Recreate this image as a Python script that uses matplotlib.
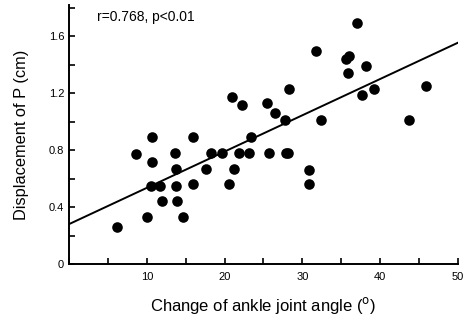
import matplotlib
matplotlib.use("Agg")
import matplotlib.pyplot as plt
import numpy as np
from matplotlib.ticker import MultipleLocator, FixedLocator

plt.rcParams['font.family'] = ['Liberation Sans', 'DejaVu Sans']

angle_change = [6.2, 8.6, 10.0, 10.5, 10.7, 10.7, 11.7, 12.0, 13.6, 13.8,
                13.8, 13.9, 14.7, 16.0, 16.0, 17.6, 18.2, 19.7, 20.6, 21.2,
                20.9, 21.9, 22.3, 23.2, 23.4, 25.5, 25.7, 26.5, 27.8, 27.9,
                28.2, 28.3, 30.8, 30.8, 31.7, 32.4, 35.6, 36.0, 35.8, 37.0,
                37.7, 38.2, 39.2, 43.7, 45.9]
displacement = [0.26, 0.77, 0.33, 0.55, 0.72, 0.89, 0.55, 0.44, 0.78, 0.67,
                0.55, 0.44, 0.33, 0.89, 0.56, 0.67, 0.78, 0.78, 0.56, 0.67,
                1.17, 0.78, 1.12, 0.78, 0.89, 1.13, 0.78, 1.06, 1.01, 0.78,
                0.78, 1.23, 0.66, 0.56, 1.50, 1.01, 1.44, 1.46, 1.34, 1.69,
                1.19, 1.39, 1.23, 1.01, 1.25]

fit_intercept = 0.28
fit_slope = 0.0255
x_tick_labels = [10, 20, 30, 40, 50]
y_tick_labels = [0, 0.4, 0.8, 1.2, 1.6]

fig = plt.figure(figsize=(4.64, 3.25), dpi=100)
ax = fig.add_axes([0.1487, 0.1877, 0.8383, 0.797])

ax.scatter(angle_change, displacement, s=58, color='black', zorder=3, linewidths=0)
xl = np.array([0, 50])
ax.plot(xl, fit_intercept + fit_slope * xl, color='black', lw=1.4)

ax.set_xlim(0, 50)
ax.set_ylim(0, 1.82)
for s in ['top', 'right']:
    ax.spines[s].set_visible(False)
for s in ['left', 'bottom']:
    ax.spines[s].set_linewidth(1.4)

ax.xaxis.set_major_locator(FixedLocator(x_tick_labels))
ax.xaxis.set_minor_locator(MultipleLocator(5))
ax.yaxis.set_major_locator(FixedLocator(y_tick_labels))
ax.yaxis.set_minor_locator(MultipleLocator(0.2))
ax.set_yticklabels(['0', '0.4', '0.8', '1.2', '1.6'])
ax.tick_params(which='both', direction='in', width=1.2, labelsize=8)
ax.tick_params(which='major', length=4)
ax.tick_params(which='minor', length=4)
ax.tick_params(axis='x', pad=6)

ax.set_xlabel('Change of ankle joint angle ($^{\\rm o}$)', fontsize=12, labelpad=9)
ax.set_ylabel('Displacement of P (cm)', fontsize=11.8, labelpad=14)
ax.text(0.072, 0.955, 'r=0.768, p<0.01', transform=ax.transAxes, fontsize=10,
        va='center', ha='left')

fig.savefig('out.png', dpi=100)
